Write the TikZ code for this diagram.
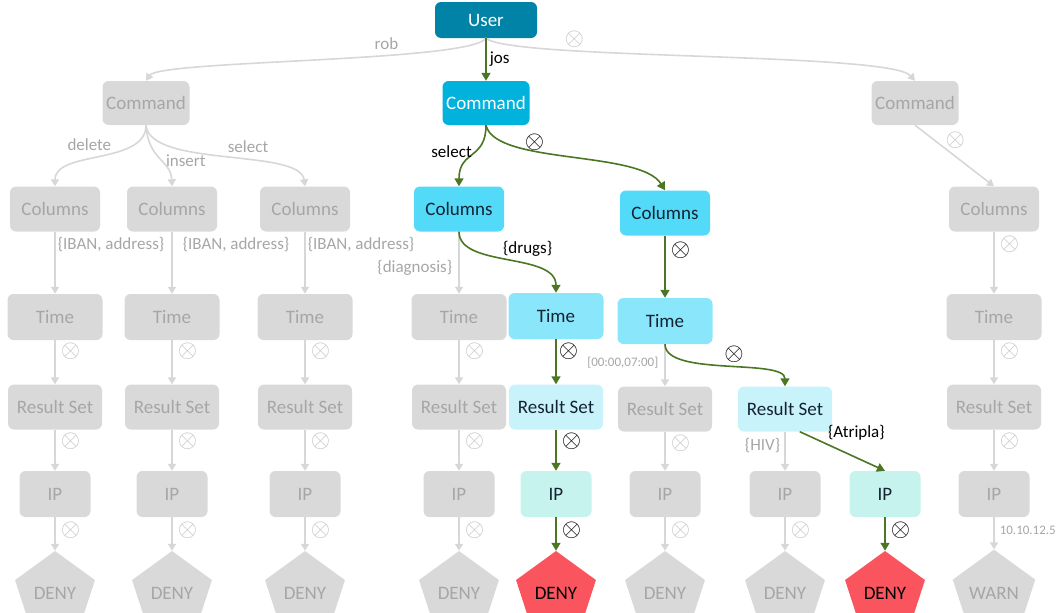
\documentclass[tikz,border=0pt]{standalone}
\usepackage{fontspec}
\setmainfont{Carlito}
\usetikzlibrary{shapes.geometric, arrows.meta}

\definecolor{usrc}{RGB}{0,131,166}
\definecolor{cmdc}{RGB}{0,178,220}
\definecolor{colc}{RGB}{82,218,248}
\definecolor{timc}{RGB}{138,230,250}
\definecolor{resc}{RGB}{200,243,251}
\definecolor{ipc}{RGB}{198,243,238}
\definecolor{denyc}{RGB}{250,85,95}
\definecolor{gbox}{RGB}{217,217,217}
\definecolor{gtext}{RGB}{166,166,166}
\definecolor{gline}{RGB}{215,215,215}
\definecolor{gsym}{RGB}{195,195,195}
\definecolor{okgreen}{RGB}{75,118,35}
\definecolor{dtext}{RGB}{20,35,50}

\newcommand{\rejmark}{$\otimes$}

\begin{document}
\begin{tikzpicture}[x=1pt, y=-1pt,
  box/.style={rounded corners=6pt, inner sep=0pt, font=\fontsize{19}{21}\selectfont},
  off/.style={box, fill=gbox, text=gtext},
  usrw/.style={minimum width=102pt, minimum height=36pt},
  cmdw/.style={minimum width=87pt, minimum height=44pt},
  colw/.style={minimum width=90pt, minimum height=45pt},
  timw/.style={minimum width=95pt, minimum height=46pt},
  resw/.style={minimum width=94pt, minimum height=45pt},
  ipw/.style={minimum width=71pt, minimum height=46pt},
  pent/.style={regular polygon, regular polygon sides=5, minimum size=84pt, inner sep=0pt,
    font=\fontsize{19}{21}\selectfont},
  offpent/.style={pent, fill=gbox, text=gtext},
  redpent/.style={pent, fill=denyc, text=black},
  gedge/.style={draw=gline, line width=1.6pt, -{Triangle[length=7pt,width=8pt]}},
  aedge/.style={draw=okgreen, line width=1.6pt, -{Triangle[length=8pt,width=9pt]}},
  lab/.style={font=\fontsize{17}{19}\selectfont, text=gtext, inner sep=2pt},
  blab/.style={lab, text=black},
  small/.style={font=\fontsize{13}{15}\selectfont, text=gtext, inner sep=2pt},
  sym/.style={font=\fontsize{30}{30}\selectfont, text=gsym, inner sep=0pt},
  bsym/.style={sym, text=black}]
\useasboundingbox (0,0) rectangle (1063,613);

% top
\node[box, usrw, fill=usrc, text=white] (user) at (486,20) {User};
\node[off, cmdw] (cmdL) at (146,103) {Command};
\node[box, cmdw, fill=cmdc, text=white] (cmdA) at (486,103) {Command};
\node[off, cmdw] (cmdR) at (915,103) {Command};

% columns
\node[off, colw] (colL1) at (55,209) {Columns};
\node[off, colw] (colL2) at (172,209) {Columns};
\node[off, colw] (colL3) at (305,209) {Columns};
\node[box, colw, fill=colc, text=dtext] (colA1) at (459,209) {Columns};
\node[box, colw, fill=colc, text=dtext] (colA2) at (665,213) {Columns};
\node[off, colw] (colR) at (994,209) {Columns};

% time
\node[off, timw] (timL1) at (55,317) {Time};
\node[off, timw] (timL2) at (172,317) {Time};
\node[off, timw] (timL3) at (305,317) {Time};
\node[off, timw] (timG4) at (459,317) {Time};
\node[box, timw, fill=timc, text=dtext] (timA1) at (556,316) {Time};
\node[box, timw, fill=timc, text=dtext] (timA2) at (665,321) {Time};
\node[off, timw] (timR) at (994,317) {Time};

% result sets
\node[off, resw] (resL1) at (55,407) {Result Set};
\node[off, resw] (resL2) at (172,407) {Result Set};
\node[off, resw] (resL3) at (305,407) {Result Set};
\node[off, resw] (resG4) at (459,407) {Result Set};
\node[box, resw, fill=resc, text=dtext] (resA1) at (556,407) {Result Set};
\node[off, resw] (resG5) at (665,409) {Result Set};
\node[box, resw, fill=resc, text=dtext] (resA2) at (785,409) {Result Set};
\node[off, resw] (resR) at (994,407) {Result Set};

% ip
\node[off, ipw] (ipL1) at (55,494) {IP};
\node[off, ipw] (ipL2) at (172,494) {IP};
\node[off, ipw] (ipL3) at (305,494) {IP};
\node[off, ipw] (ipG4) at (459,494) {IP};
\node[box, ipw, fill=ipc, text=dtext] (ipA1) at (556,494) {IP};
\node[off, ipw] (ipG5) at (665,494) {IP};
\node[off, ipw] (ipG6) at (785,494) {IP};
\node[box, ipw, fill=ipc, text=dtext] (ipA2) at (885,494) {IP};
\node[off, ipw] (ipR) at (994,494) {IP};

% decisions
\node[offpent] (dnL1) at (55,593) {DENY};
\node[offpent] (dnL2) at (172,593) {DENY};
\node[offpent] (dnL3) at (305,593) {DENY};
\node[offpent] (dnG4) at (459,593) {DENY};
\node[redpent] (dnA1) at (556,593) {DENY};
\node[offpent] (dnG5) at (665,593) {DENY};
\node[offpent] (dnG6) at (785,593) {DENY};
\node[redpent] (dnA2) at (885,593) {DENY};
\node[offpent] (warn) at (994,593) {WARN};

% user level
\draw[gedge] (user.south) .. controls (470,62) and (160,60) .. (cmdL.north) node[lab, pos=.35, above=3pt] {rob};
\draw[gedge] (user.south) .. controls (510,60) and (890,52) .. (cmdR.north) node[sym, pos=.28, above=3pt] {\rejmark};
\draw[aedge] (user) -- (cmdA) node[blab, midway, right=1pt] {jos};

% command level
\draw[gedge] (cmdL.south) .. controls (146,165) and (55,150) .. (colL1.north) node[lab, pos=.4, above left=0pt] {delete};
\draw[gedge] (cmdL.south) .. controls (148,160) and (171,160) .. (colL2.north) node[lab, pos=.55, right=2pt] {insert};
\draw[gedge] (cmdL.south) .. controls (150,168) and (300,148) .. (colL3.north) node[lab, pos=.6, above=5pt] {select};
\draw[aedge] (cmdA.south) .. controls (486,160) and (459,150) .. (colA1.north) node[blab, pos=.4, left=2pt] {select};
\draw[aedge] (cmdA.south) .. controls (495,165) and (640,150) .. (colA2.north) node[bsym, pos=.35, above=0pt] {\rejmark};
\draw[gedge] (cmdR.south) -- (colR.north) node[sym, pos=.25, right=10pt] {\rejmark};

% columns level
\draw[gedge] (colL1) -- (timL1) node[lab, pos=.2, right=0pt] {\{IBAN, address\}};
\draw[gedge] (colL2) -- (timL2) node[lab, pos=.2, right=8pt] {\{IBAN, address\}};
\draw[gedge] (colL3) -- (timL3) node[lab, pos=.2, right=0pt] {\{IBAN, address\}};
\draw[gedge] (colA1) -- (timG4) node[lab, pos=.58, left=4pt] {\{diagnosis\}};
\draw[aedge] (colA1.south) .. controls (459,268) and (556,252) .. (timA1.north) node[blab, pos=.45, above right=0pt] {\{drugs\}};
\draw[aedge] (colA2) -- (timA2) node[bsym, pos=.23, right=5pt] {\rejmark};
\draw[gedge] (colR) -- (timR) node[sym, pos=.2, right=5pt] {\rejmark};

% time level
\draw[gedge] (timL1) -- (resL1) node[sym, pos=.24, right=5pt] {\rejmark};
\draw[gedge] (timL2) -- (resL2) node[sym, pos=.24, right=5pt] {\rejmark};
\draw[gedge] (timL3) -- (resL3) node[sym, pos=.24, right=5pt] {\rejmark};
\draw[gedge] (timG4) -- (resG4) node[sym, pos=.24, right=5pt] {\rejmark};
\draw[aedge] (timA1) -- (resA1) node[bsym, pos=.27, right=2pt] {\rejmark};
\draw[gedge] (timA2) -- (resG5) node[small, pos=.45, left=4pt] {[00:00,07:00]};
\draw[aedge] (timA2.south) .. controls (665,377) and (785,358) .. (resA2.north) node[bsym, pos=.55, above=4pt] {\rejmark};
\draw[gedge] (timR) -- (resR) node[sym, pos=.24, right=5pt] {\rejmark};

% result set level
\draw[gedge] (resL1) -- (ipL1) node[sym, pos=.27, right=5pt] {\rejmark};
\draw[gedge] (resL2) -- (ipL2) node[sym, pos=.27, right=5pt] {\rejmark};
\draw[gedge] (resL3) -- (ipL3) node[sym, pos=.27, right=5pt] {\rejmark};
\draw[gedge] (resG4) -- (ipG4) node[sym, pos=.27, right=5pt] {\rejmark};
\draw[aedge] (resA1) -- (ipA1) node[bsym, pos=.27, right=5pt] {\rejmark};
\draw[gedge] (resG5) -- (ipG5) node[sym, pos=.3, right=5pt] {\rejmark};
\draw[gedge] (resA2) -- (ipG6) node[lab, pos=.35, left=2pt] {\{HIV\}};
\draw[aedge] (resA2.-57) -- (ipA2.north) node[blab, pos=.3, above right=0pt] {\{Atripla\}};
\draw[gedge] (resR) -- (ipR) node[sym, pos=.27, right=5pt] {\rejmark};

% ip level
\draw[gedge] (ipL1) -- (dnL1) node[sym, pos=.4, right=5pt] {\rejmark};
\draw[gedge] (ipL2) -- (dnL2) node[sym, pos=.4, right=5pt] {\rejmark};
\draw[gedge] (ipL3) -- (dnL3) node[sym, pos=.4, right=5pt] {\rejmark};
\draw[gedge] (ipG4) -- (dnG4) node[sym, pos=.4, right=5pt] {\rejmark};
\draw[aedge] (ipA1) -- (dnA1) node[bsym, pos=.4, right=5pt] {\rejmark};
\draw[gedge] (ipG5) -- (dnG5) node[sym, pos=.4, right=5pt] {\rejmark};
\draw[gedge] (ipG6) -- (dnG6) node[sym, pos=.4, right=5pt] {\rejmark};
\draw[aedge] (ipA2) -- (dnA2) node[bsym, pos=.4, right=5pt] {\rejmark};
\draw[gedge] (ipR) -- (warn) node[small, pos=.4, right=3pt] {10.10.12.5};
\end{tikzpicture}
\end{document}
